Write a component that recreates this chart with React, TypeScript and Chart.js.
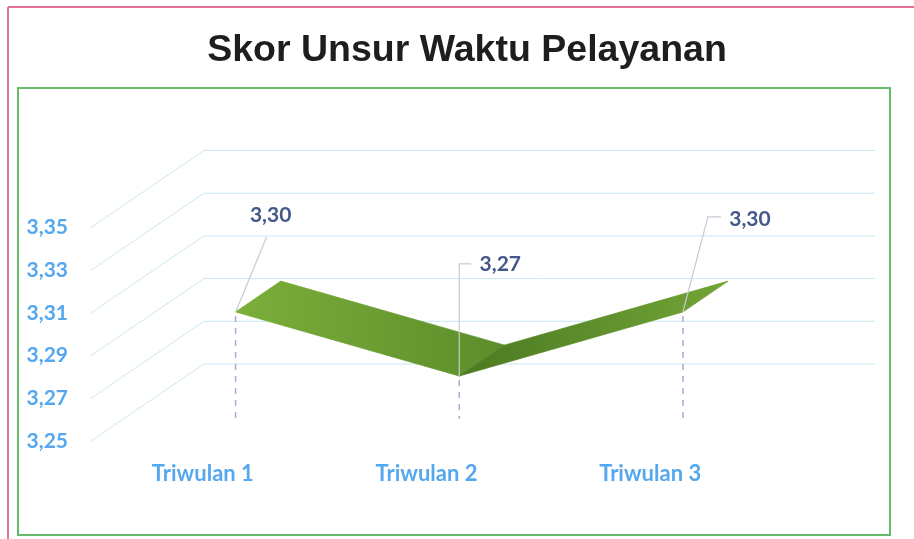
import React, { useEffect, useRef } from "react";
import { Chart, registerables } from "chart.js";

Chart.register(...registerables);

// ---- data ----
const CATEGORIES = ["Triwulan 1", "Triwulan 2", "Triwulan 3"];
const SCORES = [3.3, 3.27, 3.3];
const Y_MIN = 3.25;
const Y_MAX = 3.35;
const Y_STEP = 0.02;
const TITLE = "Skor Unsur Waktu Pelayanan";

// ---- style ----
const DEPTH_DX = 113;
const DEPTH_DY = -77;
const RIBBON_FRONT = 0.29;
const RIBBON_BACK = 0.69;
const AXIS_BLUE = "#55a8ee";
const LABEL_BLUE = "#44598a";
const GRID = "#c9e7f1";
// leader line geometry and label placement, relative to the ribbon's front point
const LEADERS = [
  { corner: [31, -75], tail: [31, -75], label: [35, -97] },
  { corner: [0, -112], tail: [12, -112], label: [41, -112] },
  { corner: [25, -95], tail: [38, -95], label: [67, -93] },
];
const SEG_COLORS = [
  ["#7cae3b", "#5c8d2a"],
  ["#4b7921", "#72a537"],
];

const fmt = (v: number) => Number(v).toFixed(2).replace(".", ",");

const scenePlugin = {
  id: "scene3d",
  beforeDraw(chart: any) {
    const ctx = chart.ctx;
    ctx.save();
    ctx.fillStyle = "#ffffff";
    ctx.fillRect(0, 0, chart.width, chart.height);
    // pink page frame
    ctx.strokeStyle = "#e5709c";
    ctx.lineWidth = 2;
    ctx.beginPath();
    ctx.moveTo(8, 7);
    ctx.lineTo(chart.width, 7);
    ctx.moveTo(8, 7);
    ctx.lineTo(8, chart.height);
    ctx.stroke();
    // green chart frame
    ctx.strokeStyle = "#66bb6a";
    ctx.lineWidth = 2;
    ctx.strokeRect(18, 88, 872, 447);
    ctx.restore();
  },
  afterDatasetsDraw(chart: any) {
    const ctx = chart.ctx;
    const xs = chart.scales.x;
    const ys = chart.scales.y;
    const area = chart.chartArea;
    ctx.save();
    // walls grid
    ctx.strokeStyle = GRID;
    ctx.lineWidth = 1;
    ys.ticks.forEach((t: any) => {
      const y = ys.getPixelForValue(t.value);
      ctx.beginPath();
      ctx.moveTo(area.left, y);
      ctx.lineTo(area.left + DEPTH_DX, y + DEPTH_DY);
      ctx.lineTo(area.right + DEPTH_DX, y + DEPTH_DY);
      ctx.stroke();
    });

    const meta = chart.getDatasetMeta(0);
    const pts = meta.data.map((p: any) => ({ x: p.x, y: p.y }));
    const front = pts.map((p: any) => ({
      x: p.x + DEPTH_DX * RIBBON_FRONT,
      y: p.y + DEPTH_DY * RIBBON_FRONT,
    }));
    const back = pts.map((p: any) => ({
      x: p.x + DEPTH_DX * RIBBON_BACK,
      y: p.y + DEPTH_DY * RIBBON_BACK,
    }));
    const floorY = ys.getPixelForValue(Y_MIN) + DEPTH_DY * RIBBON_FRONT;

    // drop lines
    ctx.strokeStyle = "#a9a9dc";
    ctx.lineWidth = 1.5;
    ctx.setLineDash([6, 6]);
    front.forEach((f: any) => {
      ctx.beginPath();
      ctx.moveTo(f.x, f.y + 4);
      ctx.lineTo(f.x, floorY);
      ctx.stroke();
    });
    ctx.setLineDash([]);

    // ribbon
    for (let i = 0; i < front.length - 1; i++) {
      const g = ctx.createLinearGradient(front[i].x, 0, back[i + 1].x, 0);
      const c = SEG_COLORS[i % SEG_COLORS.length];
      g.addColorStop(0, c[0]);
      g.addColorStop(1, c[1]);
      ctx.fillStyle = g;
      ctx.strokeStyle = g;
      ctx.lineWidth = 0.8;
      ctx.beginPath();
      ctx.moveTo(front[i].x, front[i].y);
      ctx.lineTo(front[i + 1].x, front[i + 1].y);
      ctx.lineTo(back[i + 1].x, back[i + 1].y);
      ctx.lineTo(back[i].x, back[i].y);
      ctx.closePath();
      ctx.fill();
      ctx.stroke();
    }

    // leader lines and value labels
    ctx.font = "bold 21px Lato";
    ctx.textAlign = "center";
    ctx.textBaseline = "middle";
    front.forEach((f: any, i: number) => {
      const L = LEADERS[i];
      ctx.strokeStyle = "#c9c9d6";
      ctx.lineWidth = 1.2;
      ctx.beginPath();
      ctx.moveTo(f.x, f.y);
      ctx.lineTo(f.x + L.corner[0], f.y + L.corner[1]);
      ctx.lineTo(f.x + L.tail[0], f.y + L.tail[1]);
      ctx.stroke();
      ctx.fillStyle = LABEL_BLUE;
      ctx.fillText(fmt(SCORES[i]), f.x + L.label[0], f.y + L.label[1]);
    });
    ctx.restore();
  },
};

export default function App() {
  const ref = useRef<HTMLCanvasElement | null>(null);
  useEffect(() => {
    document.body.style.margin = "0";
    const chart = new Chart(ref.current as HTMLCanvasElement, {
      type: "line",
      data: {
        labels: CATEGORIES,
        datasets: [
          {
            data: SCORES,
            showLine: false,
            pointRadius: 0,
            borderWidth: 0,
            yAxisID: "y",
          },
        ],
      },
      options: {
        responsive: false,
        animation: false,
        layout: { padding: { top: 0, left: 20, right: 0, bottom: 0 } },
        plugins: {
          legend: { display: false },
          tooltip: { enabled: false },
          title: {
            display: true,
            text: TITLE,
            color: "#1e1e1e",
            font: { family: "Liberation Sans", size: 37.5, weight: "bold" },
            padding: { top: 28, bottom: 154.5 },
          },
        },
        scales: {
          x: {
            type: "category",
            offset: true,
            grid: { display: false, drawTicks: false },
            border: { display: false },
            ticks: {
              color: AXIS_BLUE,
              padding: 20,
              font: { family: "Lato", size: 22, weight: "bold" },
            },
            afterFit(s: any) {
              s.height = 98;
            },
          },
          y: {
            type: "linear",
            position: "left",
            min: Y_MIN,
            max: Y_MAX,
            grid: { display: false, drawTicks: false },
            border: { display: false },
            ticks: {
              stepSize: Y_STEP,
              color: AXIS_BLUE,
              padding: 23,
              font: { family: "Lato", size: 21, weight: "bold" },
              callback: (v: any) => fmt(v),
            },
            afterFit(s: any) {
              s.width = 71;
            },
          },
          depthSpace: {
            type: "linear",
            position: "right",
            min: Y_MIN,
            max: Y_MAX,
            grid: { display: false, drawTicks: false },
            border: { display: false },
            ticks: { display: false },
            afterFit(s: any) {
              s.width = 152;
            },
          },
        },
      },
      plugins: [scenePlugin],
    });
    return () => chart.destroy();
  }, []);
  return (
    <div style={{ position: "absolute", left: 0, top: 0, width: 914, height: 539 }}>
      <canvas ref={ref} width={914} height={539} />
    </div>
  );
}
